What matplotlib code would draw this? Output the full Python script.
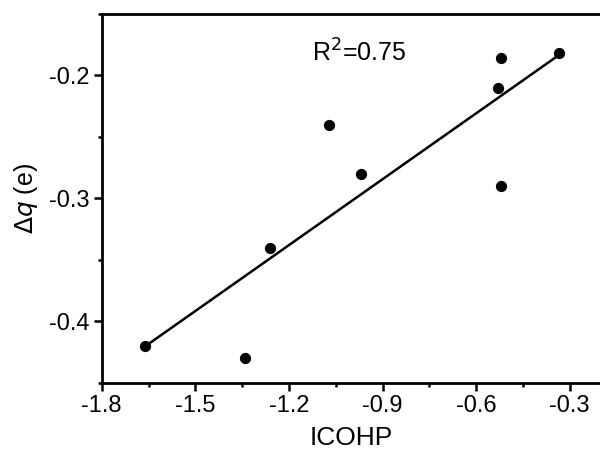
import numpy as np
import matplotlib
matplotlib.use("Agg")
import matplotlib.pyplot as plt
from matplotlib.ticker import MultipleLocator

plt.rcParams["font.family"] = ["Liberation Sans", "DejaVu Sans"]

icohp = [-1.66, -1.34, -1.26, -1.07, -0.97, -0.53, -0.52, -0.52, -0.335]
dq = [-0.42, -0.43, -0.34, -0.24, -0.28, -0.21, -0.186, -0.29, -0.182]
r2_label = "R$^2$=0.75"

fig = plt.figure(figsize=(6.0, 4.63), dpi=100)
ax = fig.add_axes([0.1695, 0.1728, 0.832, 0.797])

ax.scatter(icohp, dq, s=50, color="black", zorder=3)

# linear fit through the points
slope, intercept = np.polyfit(icohp, dq, 1)
xs = np.array([min(icohp), max(icohp)])
ax.plot(xs, slope * xs + intercept, color="black", linewidth=1.8)

ax.text(-1.125, -0.182, r2_label, fontsize=18, va="center", ha="left")

ax.set_xlim(-1.8, -0.2)
ax.set_ylim(-0.45, -0.15)
ax.xaxis.set_minor_locator(MultipleLocator(0.15))
ax.yaxis.set_minor_locator(MultipleLocator(0.05))
ax.set_xticks([-1.8, -1.5, -1.2, -0.9, -0.6, -0.3])
ax.set_xticklabels(["-1.8", "-1.5", "-1.2", "-0.9", "-0.6", "-0.3"])
ax.set_yticks([-0.4, -0.3, -0.2])
ax.set_yticklabels(["-0.4", "-0.3", "-0.2"])

ax.tick_params(which="major", direction="out", length=6, width=1.8,
               labelsize=17, pad=3, top=False, right=False)
ax.tick_params(which="minor", direction="out", length=3, width=1.8,
               top=False, right=False)
for side in ["left", "bottom", "top"]:
    ax.spines[side].set_linewidth(2)
ax.spines["right"].set_linewidth(0.8)
ax.spines["right"].set_color("#cccccc")

ax.set_xlabel("ICOHP", fontsize=19, labelpad=6)
ax.set_ylabel(r"$\Delta$$q$ (e)", fontsize=18, labelpad=6)

fig.savefig("out.png", dpi=100)
